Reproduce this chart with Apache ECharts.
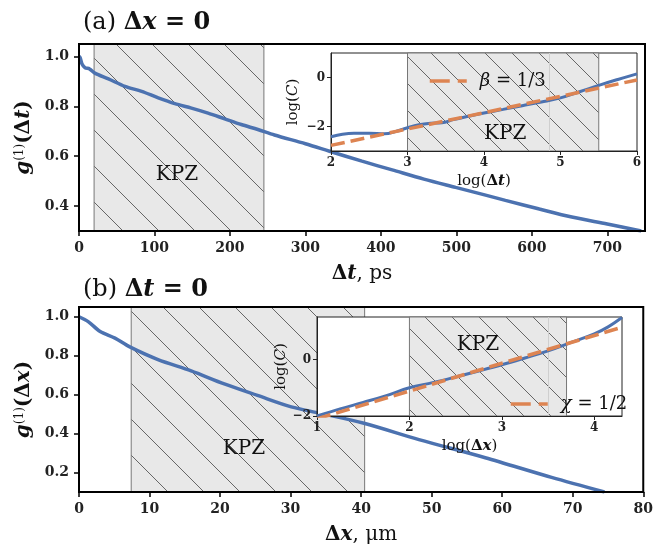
<!DOCTYPE html>
<html>
<head>
<meta charset="utf-8">
<script src="https://cdn.jsdelivr.net/npm/echarts@6/dist/echarts.min.js"></script>
<style>
  html, body { margin: 0; padding: 0; background: #fff; }
  #main { width: 656px; height: 546px; }
</style>
</head>
<body>
<div id="main"></div>
<script>
// (a) g1 vs delta t (ps)
const tA = [0, 1.5, 4, 8, 14, 21, 39, 61, 83, 105, 127, 149, 171, 193, 215, 237, 259, 300, 332, 375, 415, 457, 499, 540, 565, 610, 653, 700, 745];
const gA = [1.0, 0.995, 0.97, 0.955, 0.95, 0.933, 0.91, 0.88, 0.86, 0.834, 0.811, 0.793, 0.773, 0.75, 0.727, 0.707, 0.685, 0.65, 0.62, 0.58, 0.545, 0.508, 0.475, 0.443, 0.423, 0.388, 0.356, 0.328, 0.3];
// inset (a): log C vs log delta t
const logTA = [2, 2.15, 2.3, 2.5, 2.7, 2.85, 3.0, 3.15, 3.3, 3.45, 3.6, 3.8, 4.0, 4.25, 4.5, 4.75, 5.0, 5.25, 5.5, 5.75, 6.0];
const logCA = [-2.42, -2.32, -2.28, -2.28, -2.3, -2.2, -2.05, -1.93, -1.87, -1.85, -1.72, -1.58, -1.45, -1.3, -1.15, -1.0, -0.83, -0.58, -0.32, -0.08, 0.15];
const fitTA = [2, 6];
const fitCA = [-2.77, -0.1];

// (b) g1 vs delta x (um)
const xB = [0, 1.3, 3.0, 5.1, 7.2, 11.2, 15.9, 20.6, 25.3, 30.1, 34.1, 40.4, 48.2, 57.6, 67.0, 74.5];
const gB = [1.0, 0.975, 0.924, 0.89, 0.845, 0.78, 0.722, 0.655, 0.596, 0.537, 0.505, 0.453, 0.369, 0.276, 0.175, 0.1];
// inset (b): log C vs log delta x
const logXB = [1, 1.25, 1.5, 1.75, 2, 2.25, 2.5, 2.75, 3, 3.25, 3.5, 3.75, 4, 4.15, 4.3];
const logCB = [-2.0, -1.75, -1.52, -1.28, -1.0, -0.82, -0.62, -0.41, -0.19, 0.05, 0.3, 0.6, 0.9, 1.15, 1.48];
const fitXB = [1, 4.3];
const fitCB = [-2.1, 1.14];

// KPZ ranges and faint guide lines
const kpzA = [20, 245];
const kpzInsetA = [3, 5.5];
const guideInsetA = 4.85;
const kpzB = [7.4, 40.5];
const kpzInsetB = [2, 3.7];
const guideInsetB = 3.5;

// ticks
const ticksXA = [0, 100, 200, 300, 400, 500, 600, 700];
const ticksYA = [0.4, 0.6, 0.8, 1.0];
const ticksXIA = [2, 3, 4, 5, 6];
const ticksYIA = [-2, 0];
const ticksXB = [0, 10, 20, 30, 40, 50, 60, 70, 80];
const ticksYB = [0.2, 0.4, 0.6, 0.8, 1.0];
const ticksXIB = [1, 2, 3, 4];
const ticksYIB = [-2, 0];

const serif = "DejaVu Serif";
const blue = "#4C72B0";
const orange = "#DD8452";

function zip(xs, ys) {
  return xs.map((x, i) => [x, ys[i]]);
}

function hatch(step) {
  const c = document.createElement("canvas");
  c.width = step;
  c.height = step;
  const ctx = c.getContext("2d");
  ctx.fillStyle = "#e8e8e8";
  ctx.fillRect(0, 0, step, step);
  ctx.strokeStyle = "#444";
  ctx.lineWidth = 0.8;
  ctx.beginPath();
  ctx.moveTo(-2, -2);
  ctx.lineTo(step + 2, step + 2);
  ctx.stroke();
  return { image: c, repeat: "repeat" };
}

const mainHatch = hatch(36);
const insetHatch = hatch(27);

function minus(v) {
  return v < 0 ? "\u2212" + Math.abs(v) : String(v);
}

const mathRich = {
  r: { fontFamily: serif, fontSize: 20, fontWeight: "normal", color: "#111" },
  b: { fontFamily: serif, fontSize: 20, fontWeight: "bold", color: "#111" },
  bi: { fontFamily: serif, fontSize: 20, fontWeight: "bold", fontStyle: "italic", color: "#111" },
  s: { fontFamily: serif, fontSize: 12, fontWeight: "normal", color: "#111", verticalAlign: "top" },
};
const insetRich = {
  r: { fontFamily: serif, fontSize: 15, fontWeight: "normal", color: "#111" },
  b: { fontFamily: serif, fontSize: 15, fontWeight: "bold", color: "#111" },
  i: { fontFamily: serif, fontSize: 15, fontWeight: "normal", fontStyle: "italic", color: "#111" },
  bi: { fontFamily: serif, fontSize: 15, fontWeight: "bold", fontStyle: "italic", color: "#111" },
};
const titleRich = {
  r: { fontFamily: serif, fontSize: 24, fontWeight: "normal", color: "#111" },
  b: { fontFamily: serif, fontSize: 24, fontWeight: "bold", color: "#111" },
  bi: { fontFamily: serif, fontSize: 24, fontWeight: "bold", fontStyle: "italic", color: "#111" },
};
const legendRich = {
  i: { fontFamily: serif, fontSize: 18, fontStyle: "italic", color: "#111" },
  r: { fontFamily: serif, fontSize: 18, color: "#111" },
};

function mainXAxis(grid, max, ticks, name) {
  return {
    type: "value", gridIndex: grid, min: 0, max: max,
    axisLine: { show: true, onZero: false, lineStyle: { color: "#000", width: 2 } },
    axisTick: { show: true, length: 5, customValues: ticks, lineStyle: { color: "#000", width: 1.5 } },
    axisLabel: { customValues: ticks, fontFamily: serif, fontWeight: "bold", fontSize: 14, color: "#222", margin: 10 },
    splitLine: { show: false },
    name: name, nameLocation: "middle", nameGap: 33,
    nameTextStyle: { rich: mathRich },
    z: 3,
  };
}

function mainYAxis(grid, min, max, ticks, name) {
  return {
    type: "value", gridIndex: grid, min: min, max: max,
    axisLine: { show: true, onZero: false, lineStyle: { color: "#000", width: 2 } },
    axisTick: { show: true, length: 5, customValues: ticks, lineStyle: { color: "#000", width: 1.5 } },
    axisLabel: { customValues: ticks, formatter: (v) => v.toFixed(1), fontFamily: serif, fontWeight: "bold", fontSize: 14, color: "#222", margin: 10 },
    splitLine: { show: false },
    name: name, nameLocation: "middle", nameGap: 38, nameRotate: 90,
    nameTextStyle: { rich: mathRich },
    z: 3,
  };
}

function insetXAxis(grid, min, max, ticks, name) {
  return {
    type: "value", gridIndex: grid, min: min, max: max, zlevel: 1, z: 3,
    axisLine: { show: true, onZero: false, lineStyle: { color: "#222", width: 1 } },
    axisTick: { show: true, length: 4, customValues: ticks, lineStyle: { color: "#222", width: 1 } },
    axisLabel: { customValues: ticks, fontFamily: serif, fontWeight: "bold", fontSize: 12, color: "#222", margin: 6 },
    splitLine: { show: false },
    name: name, nameLocation: "middle", nameGap: 23,
    nameTextStyle: { rich: insetRich },
  };
}

function insetYAxis(grid, min, max, ticks, gap) {
  return {
    type: "value", gridIndex: grid, min: min, max: max, zlevel: 1, z: 3,
    axisLine: { show: true, onZero: false, lineStyle: { color: "#222", width: 1 } },
    axisTick: { show: true, length: 4, customValues: ticks, lineStyle: { color: "#222", width: 1 } },
    axisLabel: { customValues: ticks, formatter: minus, fontFamily: serif, fontWeight: "bold", fontSize: 12, color: "#222", margin: 6 },
    splitLine: { show: false },
    name: "{r|log(}{i|C}{r|)}", nameLocation: "middle", nameGap: gap, nameRotate: 90,
    nameTextStyle: { rich: insetRich },
  };
}

function kpzArea(range, fill, offset, zlevel) {
  return {
    silent: true, zlevel: zlevel, z: 1,
    itemStyle: { color: fill, opacity: 1, borderColor: "#777", borderWidth: 1 },
    label: { show: true, position: "inside", offset: offset, formatter: "KPZ", fontFamily: serif, fontSize: 20, color: "#111" },
    data: [[{ xAxis: range[0] }, { xAxis: range[1] }]],
  };
}

function guide(x) {
  return {
    silent: true, zlevel: 1, z: 1, symbol: ["none", "none"],
    label: { show: false },
    lineStyle: { color: "#cfcfcf", width: 1, type: "solid" },
    data: [{ xAxis: x }],
  };
}

function insetLegend(name, text, left, top) {
  return {
    data: [name], left: left, top: top, zlevel: 1, z: 6, itemWidth: 37, itemHeight: 14,
    itemStyle: { opacity: 0 },
    lineStyle: { color: orange, width: 3.5, type: [20, 8] },
    formatter: () => text,
    textStyle: { fontFamily: serif, fontSize: 18, padding: [0, 0, 0, 8], rich: legendRich },
  };
}

const myChart = echarts.init(document.getElementById("main"));
const option = {
  backgroundColor: "#fff",
  animation: false,
  title: [
    { text: "{r|(a) }{b|Δ}{bi|x}{b| = 0}", left: 78, top: 6, textStyle: { fontWeight: "normal", rich: titleRich } },
    { text: "{r|(b) }{b|Δ}{bi|t}{b| = 0}", left: 78, top: 273, textStyle: { fontWeight: "normal", rich: titleRich } },
  ],
  grid: [
    { left: 79, top: 44, width: 566, height: 187, show: true, borderColor: "#000", borderWidth: 2, backgroundColor: "transparent", z: 5 },
    { left: 331, top: 53, width: 306, height: 98, show: true, borderColor: "#222", borderWidth: 1, backgroundColor: "#fff", zlevel: 1 },
    { left: 79, top: 307, width: 566, height: 187, show: true, borderColor: "#000", borderWidth: 2, backgroundColor: "transparent", z: 5 },
    { left: 317, top: 317, width: 305, height: 99, show: true, borderColor: "#222", borderWidth: 1, backgroundColor: "#fff", zlevel: 1 },
  ],
  legend: [
    insetLegend("beta", "{i|β}{r| = 1/3}", 423, 67),
    insetLegend("chi", "{i|χ}{r| = 1/2}", 504, 390),
  ],
  xAxis: [
    mainXAxis(0, 750, ticksXA, "{b|Δ}{bi|t}{r|, ps}"),
    insetXAxis(1, 2, 6, ticksXIA, "{r|log(}{b|Δ}{bi|t}{r|)}"),
    mainXAxis(2, 80, ticksXB, "{b|Δ}{bi|x}{r|, μm}"),
    insetXAxis(3, 1, 4.3, ticksXIB, "{r|log(}{b|Δ}{bi|x}{r|)}"),
  ],
  yAxis: [
    mainYAxis(0, 0.3, 1.05, ticksYA, "{bi|g}{s|(1)}{b|(Δ}{bi|t}{b|)}"),
    insetYAxis(1, -3, 1, ticksYIA, 30),
    mainYAxis(2, 0.1, 1.05, ticksYB, "{bi|g}{s|(1)}{b|(Δ}{bi|x}{b|)}"),
    insetYAxis(3, -2, 1.5, ticksYIB, 24),
  ],
  series: [
    {
      name: "gA", type: "line", xAxisIndex: 0, yAxisIndex: 0, symbol: "none", smooth: 0.3,
      lineStyle: { color: blue, width: 3.5 }, itemStyle: { color: blue },
      data: zip(tA, gA),
      markArea: kpzArea(kpzA, mainHatch, [-2, 37], 0),
    },
    {
      name: "CA", type: "line", xAxisIndex: 1, yAxisIndex: 1, symbol: "none", smooth: 0.4, zlevel: 1, z: 3,
      lineStyle: { color: blue, width: 3 }, itemStyle: { color: blue },
      data: zip(logTA, logCA),
      markArea: kpzArea(kpzInsetA, insetHatch, [2, 32], 1),
      markLine: guide(guideInsetA),
    },
    {
      name: "beta", type: "line", xAxisIndex: 1, yAxisIndex: 1, symbol: "none", zlevel: 1, z: 4,
      lineStyle: { color: orange, width: 3.5, type: [14, 6] }, itemStyle: { color: orange },
      data: zip(fitTA, fitCA),
    },
    {
      name: "gB", type: "line", xAxisIndex: 2, yAxisIndex: 2, symbol: "none", smooth: 0.3,
      lineStyle: { color: blue, width: 3.5 }, itemStyle: { color: blue },
      data: zip(xB, gB),
      markArea: kpzArea(kpzB, mainHatch, [-4, 49], 0),
    },
    {
      name: "CB", type: "line", xAxisIndex: 3, yAxisIndex: 3, symbol: "none", smooth: 0.4, zlevel: 1, z: 3,
      lineStyle: { color: blue, width: 3 }, itemStyle: { color: blue },
      data: zip(logXB, logCB),
      markArea: kpzArea(kpzInsetB, insetHatch, [-10, -22], 1),
      markLine: guide(guideInsetB),
    },
    {
      name: "chi", type: "line", xAxisIndex: 3, yAxisIndex: 3, symbol: "none", zlevel: 1, z: 4,
      lineStyle: { color: orange, width: 3.5, type: [14, 6] }, itemStyle: { color: orange },
      data: zip(fitXB, fitCB),
    },
  ],
};
myChart.setOption(option);
</script>
</body>
</html>
